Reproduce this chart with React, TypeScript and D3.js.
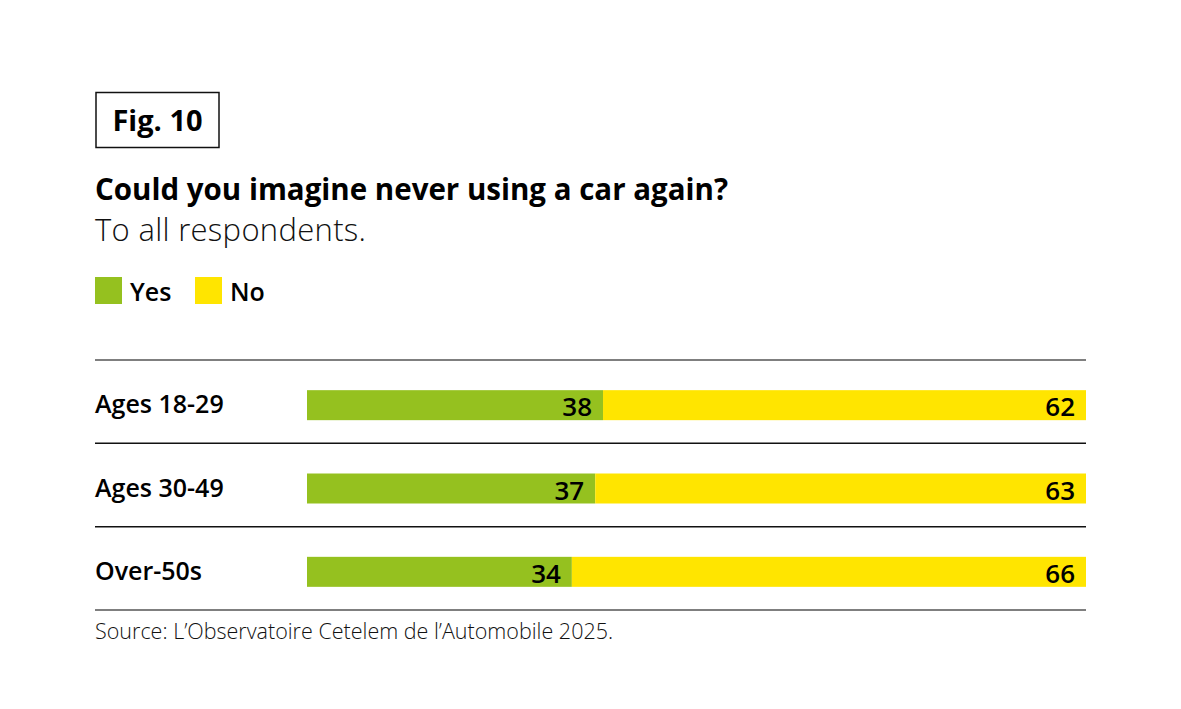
import React from 'react';
import * as d3 from 'd3';

const categories = ['Ages 18-29', 'Ages 30-49', 'Over-50s'];
const yesValues = [38, 37, 34];
const noValues = [62, 63, 66];
const seriesNames = ['Yes', 'No'];
const seriesColors = ['#95c11f', '#ffe500'];

const W = 1181;
const H = 709;
const font = '"Open Sans", Roboto, sans-serif';

const App: React.FC = () => {
  const left = 95;
  const right = 1086;
  const barLeft = 307;

  const x = d3.scaleLinear().domain([0, 100]).range([barLeft, right]);
  const band = d3.scaleBand<string>().domain(categories).range([360, 610]).paddingInner(0).paddingOuter(0);
  const barH = 30;
  const rows = categories.map((c, i) => ({ c, yes: yesValues[i], no: noValues[i] }));
  const separators = [360, ...categories.map(c => (band(c) as number) + band.bandwidth())];

  return (
    <svg width={W} height={H} style={{ position: 'absolute', left: 0, top: 0, background: '#fff' }} fontFamily={font}>
      <rect x={96} y={92.5} width={123} height={55} fill="none" stroke="#111" strokeWidth={1.5} />
      <text x={157.5} y={131} textAnchor="middle" fontSize={29} fontWeight={700} fill="#000">Fig. 10</text>

      <text x={left} y={200} fontSize={29.5} fontWeight={700} fill="#000">Could you imagine never using a car again?</text>
      <text x={left} y={241} fontSize={31} fontWeight={300} fill="#111" textLength={271} lengthAdjust="spacing">To all respondents.</text>

      {seriesNames.map((s, i) => (
        <g key={s} transform={`translate(${left + i * 100}, 277)`}>
          <rect width={27} height={27} fill={seriesColors[i]} />
          <text x={35} y={24} fontSize={25} fontWeight={600} fill="#000">{s}</text>
        </g>
      ))}

      {separators.map((y, i) => (
        <line key={i} x1={left} x2={right} y1={y} y2={y} stroke={i === 0 || i === separators.length - 1 ? '#555' : '#111'} strokeWidth={1.5} />
      ))}

      {rows.map(r => {
        const y0 = (band(r.c) as number) + (band.bandwidth() - barH) / 2 + 3.5;
        return (
          <g key={r.c}>
            <text x={left} y={y0 + 23} fontSize={25} fontWeight={600} fill="#000">{r.c}</text>
            <rect x={x(0)} y={y0} width={x(r.yes) - x(0)} height={barH} fill={seriesColors[0]} />
            <rect x={x(r.yes)} y={y0} width={x(100) - x(r.yes)} height={barH} fill={seriesColors[1]} />
            <text x={x(r.yes) - 11} y={y0 + 26} textAnchor="end" fontSize={26} fontWeight={600} fill="#000">{r.yes}</text>
            <text x={x(100) - 11} y={y0 + 26} textAnchor="end" fontSize={26} fontWeight={600} fill="#000">{r.no}</text>
          </g>
        );
      })}

      <text x={left} y={639} fontSize={21.5} fontWeight={300} fill="#111">Source: L’Observatoire Cetelem de l’Automobile 2025.</text>
    </svg>
  );
};

export default App;
